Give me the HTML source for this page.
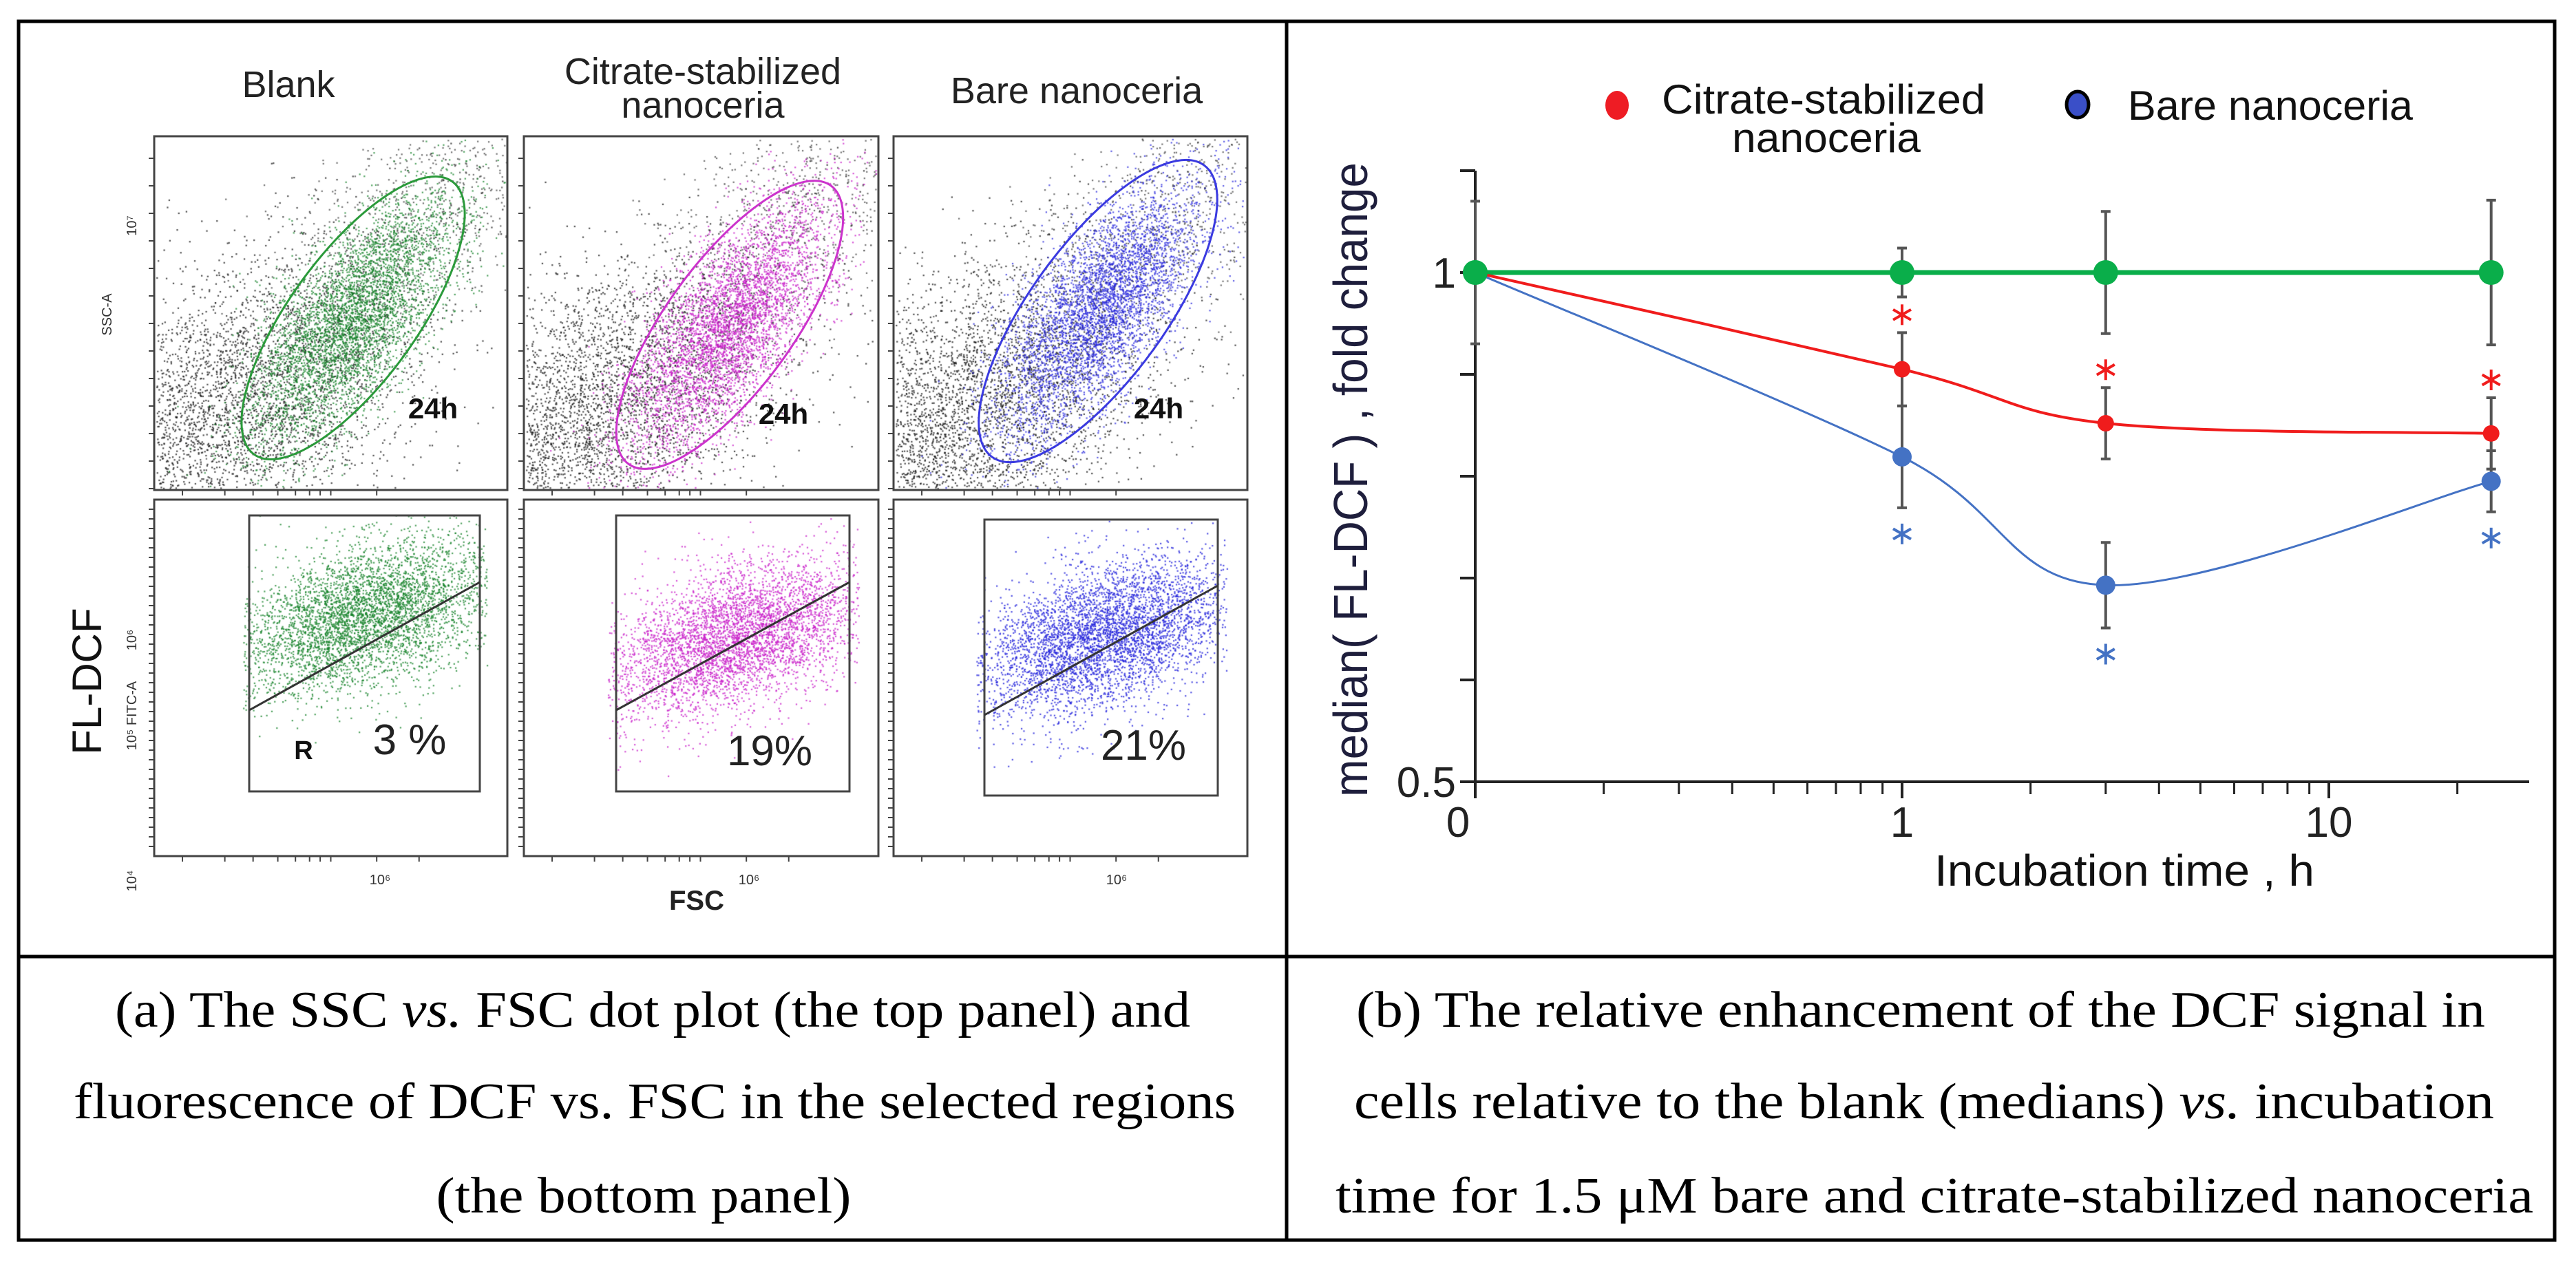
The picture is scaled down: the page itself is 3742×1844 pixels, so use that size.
<!DOCTYPE html>
<html><head><meta charset="utf-8">
<style>
html,body{margin:0;padding:0;background:#fff;}
#wrap{position:relative;width:3742px;height:1844px;overflow:hidden;}
#dots{position:absolute;left:0;top:0;}
#fig{position:absolute;left:0;top:0;}
</style></head>
<body>
<div id="wrap">
<canvas id="dots" width="3742" height="1844"></canvas>
<svg id="fig" width="3742" height="1844" xmlns="http://www.w3.org/2000/svg">
  <g stroke="#000" stroke-width="5" fill="none">
    <rect x="27" y="31" width="3684" height="1771"/>
    <line x1="1869" y1="31" x2="1869" y2="1802"/>
    <line x1="27" y1="1390" x2="3711" y2="1390"/>
  </g>

  <g font-family="Liberation Sans, sans-serif">
    <text x="419" y="141" font-size="54" text-anchor="middle" fill="#222">Blank</text>
    <text x="1021" y="122" font-size="54" text-anchor="middle" fill="#222">Citrate-stabilized</text>
    <text x="1021" y="171" font-size="54" text-anchor="middle" fill="#222">nanoceria</text>
    <text x="1564" y="150" font-size="54" text-anchor="middle" fill="#222">Bare nanoceria</text>

    <g stroke="#444" stroke-width="3" fill="none">
      <rect x="224" y="198" width="513" height="514"/>
      <rect x="761" y="198" width="515" height="514"/>
      <rect x="1298" y="198" width="514" height="514"/>
      <rect x="224" y="726" width="513" height="518"/>
      <rect x="761" y="726" width="515" height="518"/>
      <rect x="1298" y="726" width="514" height="518"/>
    </g>
    <g id="leftticks" stroke="#444" stroke-width="2"></g>

    <g fill="none" stroke-width="3">
      <ellipse rx="245" ry="92" transform="translate(513,462) rotate(-54)" stroke="#2a9a3a"/>
      <ellipse rx="250" ry="92" transform="translate(1060,472) rotate(-54)" stroke="#cc33cc"/>
      <ellipse rx="262" ry="98" transform="translate(1595,452) rotate(-54)" stroke="#3a3ae0"/>
    </g>
    <g fill="none" stroke="#444" stroke-width="3">
      <rect x="362" y="749" width="335" height="401"/>
      <rect x="895" y="749" width="339" height="401"/>
      <rect x="1430" y="755" width="339" height="401"/>
      <line x1="362" y1="1032" x2="697" y2="846" stroke="#333"/>
      <line x1="895" y1="1032" x2="1234" y2="846" stroke="#333"/>
      <line x1="1430" y1="1039" x2="1769" y2="851" stroke="#333"/>
    </g>
    <g font-weight="bold" fill="#111">
      <text x="629" y="608" font-size="42" text-anchor="middle">24h</text>
      <text x="1138" y="616" font-size="42" text-anchor="middle">24h</text>
      <text x="1683" y="608" font-size="42" text-anchor="middle">24h</text>
      <text x="441" y="1103" font-size="38" text-anchor="middle">R</text>
    </g>
    <g fill="#222" font-size="62">
      <text x="595" y="1096" text-anchor="middle">3 %</text>
      <text x="1118" y="1112" text-anchor="middle">19%</text>
      <text x="1661" y="1104" text-anchor="middle">21%</text>
    </g>
    <g fill="#333" font-size="20">
      <text x="552" y="1285" text-anchor="middle">10⁶</text>
      <text x="1088" y="1285" text-anchor="middle">10⁶</text>
      <text x="1622" y="1285" text-anchor="middle">10⁶</text>
      <text x="1012" y="1322" text-anchor="middle" font-size="40" font-weight="bold" fill="#222">FSC</text>
      <text transform="translate(198,328) rotate(-90)" text-anchor="middle">10⁷</text>
      <text transform="translate(162,457) rotate(-90)" text-anchor="middle">SSC-A</text>
      <text transform="translate(198,930) rotate(-90)" text-anchor="middle">10⁶</text>
      <text transform="translate(198,1040) rotate(-90)" text-anchor="middle">10⁵ FITC-A</text>
      <text transform="translate(198,1280) rotate(-90)" text-anchor="middle">10⁴</text>
      <text transform="translate(147,990) rotate(-90)" text-anchor="middle" font-size="60" fill="#111">FL-DCF</text>
    </g>
  </g>

  <g id="chart" font-family="Liberation Sans, sans-serif"></g>

  <g font-family="Liberation Serif, serif" font-size="74" fill="#000" text-anchor="middle">
    <text x="948" y="1492" textLength="1562" lengthAdjust="spacingAndGlyphs">(a) The SSC <tspan font-style="italic">vs.</tspan> FSC dot plot (the top panel) and</text>
    <text x="951" y="1625" textLength="1688" lengthAdjust="spacingAndGlyphs">fluorescence of DCF vs. FSC in the selected regions</text>
    <text x="935" y="1762" textLength="603" lengthAdjust="spacingAndGlyphs">(the bottom panel)</text>
    <text x="2790" y="1492" textLength="1640" lengthAdjust="spacingAndGlyphs">(b) The relative enhancement of the DCF signal in</text>
    <text x="2795" y="1625" textLength="1656" lengthAdjust="spacingAndGlyphs">cells relative to the blank (medians) <tspan font-style="italic">vs.</tspan> incubation</text>
    <text x="2810" y="1762" textLength="1740" lengthAdjust="spacingAndGlyphs">time for 1.5 μM bare and citrate-stabilized nanoceria</text>
  </g>
</svg>
</div>
<script>
// ---- chart data ----
const times = [0, 1, 3, 24];
const greenVals = [1, 1, 1, 1];
const greenErr = [0.07, 0.024, 0.06, 0.071];
const redVals = [1, 0.905, 0.852, 0.842];
const redErr = [0, 0.036, 0.035, 0.035];
const blueVals = [1, 0.819, 0.693, 0.795];
const blueErr = [0, 0.05, 0.042, 0.03];
const redStars = [false, true, true, true];
const blueStars = [false, true, true, true];
const xTickValues = [0.1, 1, 10];
const xTickLabels = ['0', '1', '10'];
const xMinorTicks = [0.2,0.3,0.4,0.5,0.6,0.7,0.8,0.9,2,3,4,5,6,7,8,9,20];
const yTickValues = [1.1, 1, 0.9, 0.8, 0.7, 0.6, 0.5];
const yTickLabels = {'1':'1','0.5':'0.5'};

const NS = 'http://www.w3.org/2000/svg';
const chart = document.getElementById('chart');
const X0 = 2143, DEC = 620, Y1 = 396, YS = 1480;
function xs(t){ const v = t <= 0 ? 0.1 : t; return X0 + (Math.log10(v) + 1) * DEC; }
function ys(v){ return Y1 + (1 - v) * YS; }
function el(tag, attrs, parent){
  const e = document.createElementNS(NS, tag);
  for (const k in attrs) e.setAttribute(k, attrs[k]);
  (parent || chart).appendChild(e);
  return e;
}
const yAxis = el('line', {x1:X0, y1:ys(1.1), x2:X0, y2:ys(0.5)+2, stroke:'#222', 'stroke-width':4});


const xAxis = el('line', {x1:X0-2, y1:ys(0.5), x2:3674, y2:ys(0.5), stroke:'#222', 'stroke-width':4});


yTickValues.forEach(v => {
  const t = el('line', {x1:X0-22, y1:ys(v), x2:X0, y2:ys(v), stroke:'#222', 'stroke-width':4});
  
  
  const lab = yTickLabels[String(v)];
  if (lab) {
    const tx = el('text', {x:X0-28, y:ys(v)+22, 'font-size':62, 'text-anchor':'end', fill:'#222'});
    tx.textContent = lab;
    
    
  }
});
xTickValues.forEach((v, i) => {
  const t = el('line', {x1:xs(v), y1:ys(0.5), x2:xs(v), y2:ys(0.5)+24, stroke:'#222', 'stroke-width':4});
  
  
  const tx = el('text', {x:xs(v) + (i===0 ? -25 : 0), y:1216, 'font-size':62, 'text-anchor':'middle', fill:'#222'});
  tx.textContent = xTickLabels[i];
  
  
});
xMinorTicks.forEach(v => {
  const t = el('line', {x1:xs(v), y1:ys(0.5), x2:xs(v), y2:ys(0.5)+18, stroke:'#222', 'stroke-width':3});
  
  
});
const xt = el('text', {x:3086, y:1287, 'font-size':64, 'text-anchor':'middle', fill:'#111', textLength:552, lengthAdjust:'spacingAndGlyphs'});
xt.textContent = 'Incubation time , h';


const yt = el('text', {transform:'translate(1986,697) rotate(-90)', 'font-size':70, 'text-anchor':'middle', fill:'#1e1e3c', textLength:922, lengthAdjust:'spacingAndGlyphs'});
yt.textContent = 'median( FL-DCF ) , fold change';



const lr = el('ellipse', {cx:2349, cy:153, rx:17, ry:21, fill:'#ee1c24'});


const lt1 = el('text', {x:2649, y:165, 'font-size':60, 'text-anchor':'middle', fill:'#111', textLength:470, lengthAdjust:'spacingAndGlyphs'});
lt1.textContent = 'Citrate-stabilized';


const lt2 = el('text', {x:2653, y:221, 'font-size':60, 'text-anchor':'middle', fill:'#111', textLength:274, lengthAdjust:'spacingAndGlyphs'});
lt2.textContent = 'nanoceria';


const lb = el('ellipse', {cx:3018, cy:152, rx:16, ry:19, fill:'#3a4fc8', stroke:'#000', 'stroke-width':5});


const lt3 = el('text', {x:3091, y:174, 'font-size':60, fill:'#111', textLength:414, lengthAdjust:'spacingAndGlyphs'});
lt3.textContent = 'Bare nanoceria';



function smoothPath(pts){
  let d = 'M' + pts[0][0] + ',' + pts[0][1];
  for (let i = 0; i < pts.length - 1; i++) {
    const p0 = pts[i-1] || pts[i], p1 = pts[i], p2 = pts[i+1], p3 = pts[i+2] || p2;
    const c1 = [p1[0] + (p2[0]-p0[0])/6, p1[1] + (p2[1]-p0[1])/6];
    const c2 = [p2[0] - (p3[0]-p1[0])/6, p2[1] - (p3[1]-p1[1])/6];
    d += ' C' + c1 + ' ' + c2 + ' ' + p2;
  }
  return d;
}
function star(cx, cy, color, name){
  const g = el('g', {stroke:color, 'stroke-width':4});
  
  
  for (let k = 0; k < 3; k++) {
    const a = Math.PI/2 + k*Math.PI/3;
    el('line', {x1:cx + 15*Math.cos(a), y1:cy - 15*Math.sin(a), x2:cx - 15*Math.cos(a), y2:cy + 15*Math.sin(a)}, g);
  }
}
function series(vals, errs, color, lw, r, smooth, name){
  const pts = times.map((t, i) => [xs(t), ys(vals[i])]);
  const line = el('path', {d: smooth ? smoothPath(pts) : 'M' + pts.join(' L'), fill:'none', stroke:color, 'stroke-width':lw});
  
  
  times.forEach((t, i) => {
    if (errs[i] > 0) {
      const x = xs(t), yT = ys(vals[i] + errs[i]), yB = ys(vals[i] - errs[i]);
      const eb = el('path', {d:'M'+(x-7)+','+yT+' H'+(x+7)+' M'+x+','+yT+' V'+yB+' M'+(x-7)+','+yB+' H'+(x+7), stroke:'#555', 'stroke-width':4, fill:'none'});
      
      
    }
  });
  times.forEach((t, i) => {
    const c = el('circle', {cx:xs(t), cy:ys(vals[i]), r:r, fill:color});
    
    
  });
}
series(greenVals, greenErr, '#0aae4a', 7, 18, false, 'blank');
series(redVals, redErr, '#f01c1c', 4, 12, true, 'citrate');
series(blueVals, blueErr, '#4472c4', 3, 14, true, 'bare');
times.forEach((t, i) => {
  if (redStars[i]) star(xs(t), ys(redVals[i] + redErr[i]) - 26, '#f01c1c', 'citrate-significance');
  if (blueStars[i]) star(xs(t), ys(blueVals[i] - blueErr[i]) + 38, '#4472c4', 'bare-significance');
});
const fp = el('circle', {cx:xs(0), cy:ys(1), r:18, fill:'#0aae4a'});



// ---- left panel ticks ----
const lt = document.getElementById('leftticks');
function tk(x1,y1,x2,y2){ const l=document.createElementNS(NS,'line'); l.setAttribute('x1',x1);l.setAttribute('y1',y1);l.setAttribute('x2',x2);l.setAttribute('y2',y2); lt.appendChild(l); }
[224,761,1298].forEach(px => {
  for (let y = 230; y < 712; y += 40) tk(px-8, y, px, y);
  for (let y = 740; y < 1244; y += 14) tk(px-8, y, px, y);
  [0.08,0.2,0.28,0.35,0.4,0.44,0.47,0.5,0.63,0.75].forEach(f => tk(px + f*513, 1244, px + f*513, 1252));
  [0.08,0.2,0.28,0.35,0.4,0.44,0.47,0.5,0.63].forEach(f => tk(px + f*513, 712, px + f*513, 720));
});

// ---- decorative flow cytometry dots (seeded) ----
const ctx = document.getElementById('dots').getContext('2d');
let seed = 12345;
function rnd(){ seed |= 0; seed = seed + 0x6D2B79F5 | 0; let t = Math.imul(seed ^ seed >>> 15, 1 | seed); t = t + Math.imul(t ^ t >>> 7, 61 | t) ^ t; return ((t ^ t >>> 14) >>> 0) / 4294967296; }
function gauss(){ return Math.sqrt(-2*Math.log(rnd()+1e-9)) * Math.cos(2*Math.PI*rnd()); }
function cloud(cx, cy, ang, sa, sp, n, color, box){
  ctx.fillStyle = color;
  const a = ang*Math.PI/180, ca = Math.cos(a), sn = Math.sin(a);
  for (let i = 0; i < n; i++) {
    const u = gauss()*sa, v = gauss()*sp;
    const x = cx + u*ca - v*sn, y = cy + u*sn + v*ca;
    if (x < box[0]+3 || x > box[2]-3 || y < box[1]+3 || y > box[3]-3) continue;
    ctx.fillRect(x, y, 2.2, 2.2);
  }
}
const tops = [[224,198],[761,198],[1298,198]];
const gc = [[513,462,'rgba(20,130,40,0.75)'],[1060,472,'rgba(200,30,200,0.75)'],[1595,452,'rgba(40,40,220,0.75)']];
tops.forEach((p, i) => {
  const box = [p[0], p[1], p[0]+514, p[1]+514];
  cloud(p[0]+100, p[1]+400, -35, 170, 90, 4500, 'rgba(20,20,20,0.75)', box);
  cloud(p[0]+400, p[1]+100, -40, 150, 70, 900, 'rgba(20,20,20,0.6)', box);
  cloud(gc[i][0], gc[i][1], -54, 110, 45, 4200, gc[i][2], box);
});
const bots = [[530,895,'rgba(20,130,40,0.75)',[350,745,710,1155]],[1065,925,'rgba(200,30,200,0.75)',[880,745,1250,1155]],[1600,925,'rgba(40,40,220,0.8)',[1415,750,1785,1160]]];
bots.forEach(b => {
  cloud(b[0], b[1], -20, 100, 48, 4500, b[2], b[3]);
});
</script>
</body></html>
